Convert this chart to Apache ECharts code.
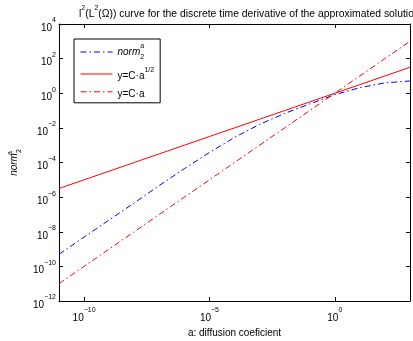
<!DOCTYPE html>
<html><head><meta charset="utf-8">
<script src="https://cdn.jsdelivr.net/npm/echarts@6/dist/echarts.min.js"></script>
<style>html,body{margin:0;padding:0;background:#fff}#c{width:413px;height:341px}</style>
</head><body><div id="c"></div>
<script>
// diffusion coefficient a (x)
const aValues = [1e-11, 1e-10, 1e-9, 1e-8, 1e-7, 1e-6, 1e-5, 1e-4, 1e-3, 1e-2, 1e-1, 1, 10, 100, 1000];
// norm_2^a (blue dash-dot)
const normValues = [5.0e-10, 4.9e-9, 4.8e-8, 4.6e-7, 4.7e-6, 4.4e-5, 3.8e-4, 2.8e-3, 1.6e-2, 6.8e-2, 0.24, 0.83, 2.1, 4.0, 5.1];
// y = C a^{1/2} (red solid)
const sqrtLineValues = [3.16e-6, 1e-5, 3.16e-5, 1e-4, 3.16e-4, 1e-3, 3.16e-3, 1e-2, 3.16e-2, 0.1, 0.316, 1, 3.16, 10, 31.6];
// y = C a (red dash-dot)
const linearLineValues = [1e-11, 1e-10, 1e-9, 1e-8, 1e-7, 1e-6, 1e-5, 1e-4, 1e-3, 1e-2, 1e-1, 1, 10, 100, 1000];
// tick values
const xTickValues = [1e-10, 1e-5, 1];
const yTickValues = [1e-12, 1e-10, 1e-8, 1e-6, 1e-4, 1e-2, 1, 1e2, 1e4];
const seriesNames = ['norm', 'sqrt', 'lin'];

const FONT = '"Liberation Sans", Arial, Helvetica, sans-serif';
const dashDot = [6, 3, 1.5, 3];

function expLabel(v) {
  const e = Math.round(Math.log10(v));
  return '{b|10}{s|' + (e < 0 ? '\u2212' + (-e) : String(e)) + '}';
}
const expRich = {
  b: { fontSize: 10, fontFamily: FONT, color: '#000', lineHeight: 16, verticalAlign: 'bottom' },
  s: { fontSize: 7, fontFamily: FONT, color: '#000', lineHeight: 6, verticalAlign: 'top' }
};

const chart = echarts.init(document.getElementById('c'), null, { renderer: 'canvas' });

function mk(arr) { return aValues.map((a, i) => [a, arr[i]]); }

const axisLineStyle = { show: true, lineStyle: { color: '#000', width: 1 } };

const option = {
  backgroundColor: '#fff',
  animation: false,
  title: {
    left: 74, top: 0,
    text: '{t|l}{s|2}{t|(L}{s|2}{t|(\u03A9)) curve for the discrete time derivative of the approximated solution}',
    textStyle: {
      fontWeight: 'normal',
      rich: {
        t: { fontSize: 10.4, fontFamily: FONT, fontWeight: 'normal', color: '#000', lineHeight: 14, verticalAlign: 'bottom' },
        s: { fontSize: 7, fontFamily: FONT, fontWeight: 'normal', color: '#000', lineHeight: 6, verticalAlign: 'top' }
      }
    }
  },
  grid: { left: 59, top: 24, width: 351, height: 277, containLabel: false, outerBoundsMode: 'none' },
  legend: {
    orient: 'vertical',
    left: 74, top: 39,
    padding: [4, 6, 4, 6],
    itemGap: 6,
    itemWidth: 32,
    itemHeight: 12,
    borderColor: '#000', borderWidth: 1,
    backgroundColor: '#fff',
    itemStyle: { opacity: 0 },
    lineStyle: { width: 1 },
    data: seriesNames,
    formatter: function (name) {
      if (name === 'norm') return '{i|norm}{sp|a}{sb|2}';
      if (name === 'sqrt') return '{t|y=C\u00B7a}{sp2|1/2}';
      return '{t|y=C\u00B7a}';
    },
    textStyle: {
      color: '#000',
      rich: {
        i: { fontSize: 10, fontFamily: FONT, fontStyle: 'italic', color: '#000', lineHeight: 18, verticalAlign: 'middle' },
        sp: { fontSize: 7, fontFamily: FONT, color: '#000', lineHeight: 6, verticalAlign: 'top', width: 0 },
        sb: { fontSize: 7, fontFamily: FONT, color: '#000', lineHeight: 6, verticalAlign: 'bottom' },
        t: { fontSize: 10, fontFamily: FONT, color: '#000', lineHeight: 14, verticalAlign: 'bottom' },
        sp2: { fontSize: 7, fontFamily: FONT, color: '#000', lineHeight: 6, verticalAlign: 'top' }
      }
    }
  },
  xAxis: [{
    type: 'log', logBase: 10, min: 1e-11, max: 1e3,
    position: 'bottom',
    name: 'a: diffusion coeficient', nameLocation: 'middle', nameGap: 15,
    nameTextStyle: { fontSize: 10, fontFamily: FONT, color: '#000' },
    axisLine: axisLineStyle,
    axisTick: { show: true, inside: true, length: 4, customValues: xTickValues, lineStyle: { color: '#000' } },
    axisLabel: { show: true, customValues: xTickValues, margin: 3, formatter: expLabel, rich: expRich, padding: [3, 0, 0, 0] },
    splitLine: { show: false }, minorTick: { show: false }
  }, {
    type: 'log', logBase: 10, min: 1e-11, max: 1e3,
    position: 'top',
    axisLine: axisLineStyle,
    axisTick: { show: true, inside: true, length: 4, customValues: xTickValues, lineStyle: { color: '#000' } },
    axisLabel: { show: false },
    splitLine: { show: false }
  }],
  yAxis: [{
    type: 'log', logBase: 10, min: 1e-12, max: 1e4,
    position: 'left',
    name: '{i|norm}{sp|a}{sb|2}', nameLocation: 'middle', nameGap: 29,
    nameTextStyle: {
      rich: {
        i: { fontSize: 10, fontFamily: FONT, fontStyle: 'italic', color: '#000', lineHeight: 16, verticalAlign: 'middle' },
        sp: { fontSize: 7, fontFamily: FONT, color: '#000', lineHeight: 6, verticalAlign: 'top', width: 0 },
        sb: { fontSize: 7, fontFamily: FONT, color: '#000', lineHeight: 6, verticalAlign: 'bottom' }
      }
    },
    axisLine: axisLineStyle,
    axisTick: { show: true, inside: true, length: 4, customValues: yTickValues, lineStyle: { color: '#000' } },
    axisLabel: { show: true, customValues: yTickValues, margin: 3, formatter: expLabel, rich: expRich, padding: [2, 0, 0, 0] },
    splitLine: { show: false }, minorTick: { show: false }
  }, {
    type: 'log', logBase: 10, min: 1e-12, max: 1e4,
    position: 'right',
    axisLine: axisLineStyle,
    axisTick: { show: true, inside: true, length: 4, customValues: yTickValues, lineStyle: { color: '#000' } },
    axisLabel: { show: false },
    splitLine: { show: false }
  }],
  series: [{
    name: 'norm', type: 'line', data: mk(normValues), symbol: 'none', smooth: false,
    lineStyle: { color: '#0000ff', width: 1, type: dashDot }, itemStyle: { color: '#0000ff' }
  }, {
    name: 'sqrt', type: 'line', data: mk(sqrtLineValues), symbol: 'none',
    lineStyle: { color: '#ff0000', width: 1, type: 'solid' }, itemStyle: { color: '#ff0000' }
  }, {
    name: 'lin', type: 'line', data: mk(linearLineValues), symbol: 'none',
    lineStyle: { color: '#ff0000', width: 1, type: dashDot }, itemStyle: { color: '#ff0000' }
  }]
};
chart.setOption(option);
</script>
</body></html>
